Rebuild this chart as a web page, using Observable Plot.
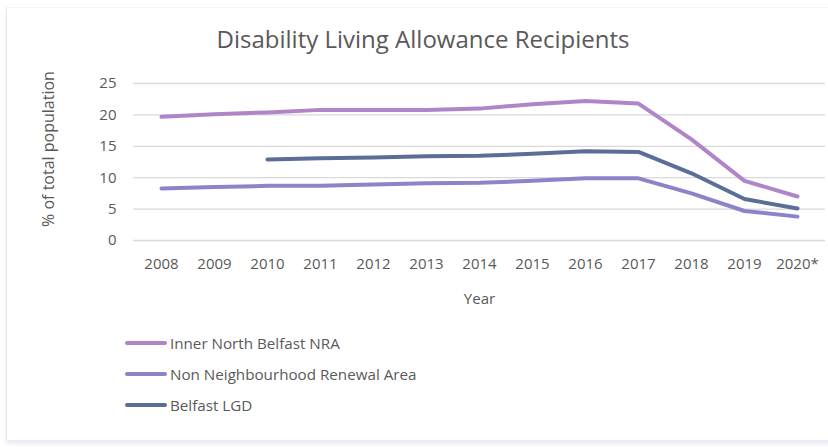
<!DOCTYPE html>
<html>
<head>
<meta charset="utf-8">
<script src="https://cdn.jsdelivr.net/npm/d3@7"></script>
<script src="https://cdn.jsdelivr.net/npm/@observablehq/plot@0.6"></script>
<style>
  html, body { margin: 0; padding: 0; background: #fff; }
  #wrap { position: relative; width: 828px; height: 447px; overflow: hidden; font-family: "Open Sans", sans-serif; color: #595959; }
  #frame { position: absolute; left: 6px; top: 7px; width: 830px; height: 432px; border-left: 1px solid #ebe7f2; border-top: 1px solid #f6f4f9; box-shadow: 0 4px 4px #ece8f4; background: #fff; }
  #title { position: absolute; left: 0; width: 846px; top: 22px; text-align: center; font-size: 24px; line-height: 34px; color: #595959; }
  #chart { position: absolute; left: 0; top: 0; }
  #ylabel { position: absolute; left: 48px; top: 149px; transform: translate(-50%, -50%) rotate(-90deg); white-space: nowrap; font-size: 16px; color: #595959; }
  #legend { position: absolute; left: 125px; top: 327px; font-size: 15.2px; color: #595959; }
  .row { display: flex; align-items: center; height: 31px; }
  .sw { width: 42px; height: 4px; border-radius: 2px; margin-right: 3px; }
</style>
</head>
<body>
<div id="wrap">
  <div id="frame"></div>
  <div id="title">Disability Living Allowance Recipients</div>
  <div id="chart"></div>
  <div id="ylabel">% of total population</div>
  <div id="legend"></div>
</div>
<script>
const years = ["2008","2009","2010","2011","2012","2013","2014","2015","2016","2017","2018","2019","2020*"];
const seriesNames = ["Inner North Belfast NRA", "Non Neighbourhood Renewal Area", "Belfast LGD"];
const seriesColors = ["#b085c7", "#8b84c9", "#5a6e97"];
const innerNorth = [19.7, 20.1, 20.4, 20.8, 20.8, 20.8, 21.0, 21.7, 22.2, 21.8, 16.1, 9.5, 7.0];
const nonNRA = [8.3, 8.5, 8.7, 8.7, 8.9, 9.1, 9.2, 9.5, 9.9, 9.9, 7.5, 4.7, 3.8];
const belfastLGD = [null, null, 12.9, 13.1, 13.2, 13.4, 13.5, 13.8, 14.2, 14.1, 10.7, 6.6, 5.1];
const yTicks = [0, 5, 10, 15, 20, 25];

const seriesValues = [innerNorth, nonNRA, belfastLGD];
const data = [];
seriesNames.forEach((name, i) => {
  years.forEach((y, j) => {
    const v = seriesValues[i][j];
    if (v != null) data.push({series: name, year: y, value: v});
  });
});

const chart = Plot.plot({
  width: 828,
  height: 320,
  marginTop: 83,
  marginBottom: 80,
  marginLeft: 133,
  marginRight: 3,
  style: {fontFamily: "Open Sans, sans-serif", fontSize: "15px", color: "#595959", background: "transparent"},
  x: {type: "point", domain: years, padding: 0.5},
  y: {domain: [0, 25]},
  color: {domain: seriesNames, range: seriesColors},
  marks: [
    Plot.gridY(yTicks, {stroke: "#d9d9d9", strokeOpacity: 1, strokeWidth: 1.3}),
    Plot.axisY(yTicks, {tickSize: 0, tickPadding: 17, label: null, fontSize: 15}),
    Plot.axisX({tickSize: 0, tickPadding: 18, label: "Year", labelAnchor: "center", labelOffset: 63, fontSize: 15}),
    Plot.line(data, {x: "year", y: "value", z: "series", stroke: "series", strokeWidth: 4, strokeLinecap: "round", strokeLinejoin: "round"})
  ]
});
document.getElementById("chart").appendChild(chart);

const legend = document.getElementById("legend");
seriesNames.forEach((name, i) => {
  const row = document.createElement("div");
  row.className = "row";
  const sw = document.createElement("div");
  sw.className = "sw";
  sw.style.background = seriesColors[i];
  const t = document.createElement("span");
  t.textContent = name;
  row.appendChild(sw);
  row.appendChild(t);
  legend.appendChild(row);
});
</script>
</body>
</html>
